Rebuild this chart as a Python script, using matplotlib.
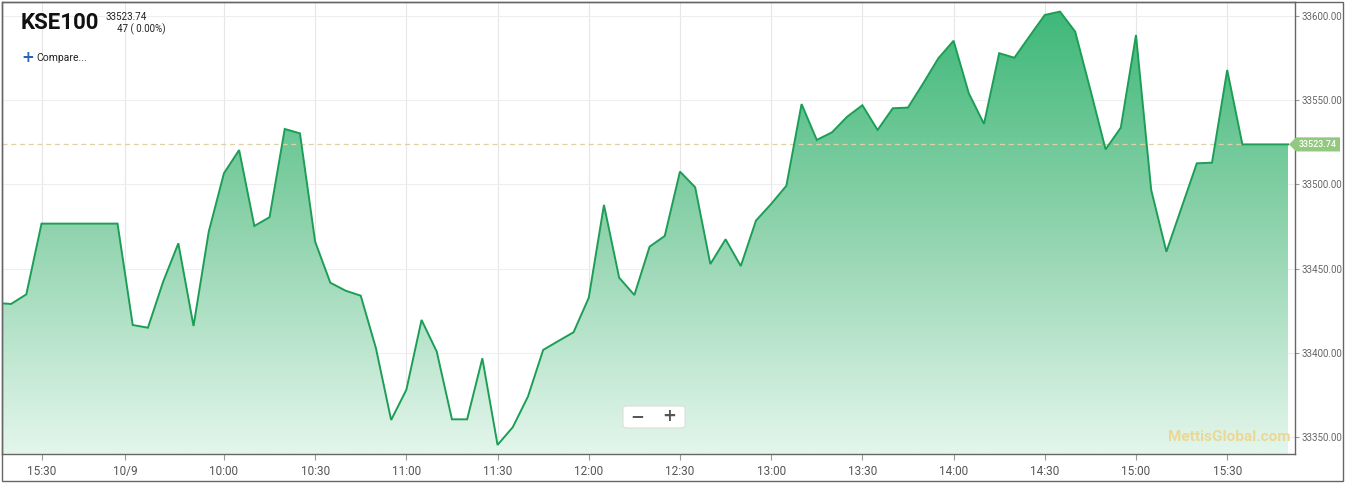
import numpy as np
import pandas as pd
import matplotlib
matplotlib.use("Agg")
import matplotlib.pyplot as plt
from matplotlib.colors import LinearSegmentedColormap
from matplotlib.patches import Rectangle, Polygon, FancyBboxPatch
from matplotlib.transforms import blended_transform_factory

# previous session tail (8/10) and today's 5-minute closes (10/9)
prev_times = ["15:15", "15:20", "15:25", "15:30"]
prev_values = [33429.6, 33429.0, 33434.7, 33476.7]

today_times = list(pd.date_range("09:25", "15:50", freq="5min").strftime("%H:%M"))
today_values = [
    33476.7, 33416.5, 33414.9, 33442.2, 33465.0, 33415.9, 33471.9,
    33506.6, 33520.4, 33475.3, 33480.5, 33532.9, 33530.3,
    33466.0, 33441.6, 33436.9, 33433.9, 33402.7, 33360.1,
    33378.0, 33419.5, 33400.7, 33360.5, 33360.5, 33396.7,
    33345.3, 33355.8, 33374.0, 33401.7, 33407.0, 33412.2,
    33432.7, 33487.8, 33444.6, 33434.3, 33463.0, 33469.4,
    33507.6, 33498.3, 33452.7, 33467.4, 33451.5, 33478.5,
    33488.4, 33499.2, 33547.7, 33526.4, 33530.9, 33540.2,
    33547.0, 33532.3, 33545.2, 33545.6, 33560.0, 33574.9,
    33585.3, 33554.1, 33535.9, 33577.9, 33575.2, 33588.0,
    33600.6, 33602.6, 33590.7, 33556.1, 33520.8, 33533.7,
    33588.7, 33496.7, 33460.0, 33486.3, 33512.5, 33512.9,
    33567.9, 33523.74, 33523.74, 33523.74, 33523.74,
]

symbol = "KSE100"
last_price = 33523.74
change_text = "47 ( 0.00%)"

tick_names = ["15:30", "10/9", "10:00", "10:30", "11:00", "11:30", "12:00",
              "12:30", "13:00", "13:30", "14:00", "14:30", "15:00", "15:30"]
y_ticks = [33350, 33400, 33450, 33500, 33550, 33600]


def to_min(t):
    h, m = t.split(":")
    return int(h) * 60 + int(m)


# collapsed intraday axis, minutes from 10:00 today; yesterday's close sits at 9:00
x_prev = [to_min(t) - 930 - 60 for t in prev_times]
x_today = [to_min(t) - 600 for t in today_times]
xs = np.array(x_prev + x_today, dtype=float)
ys = np.array(prev_values + today_values)
tick_pos = [-60, -32.5] + [to_min(t) - 600 for t in tick_names[2:]]

W, H = 1345, 484
fig = plt.figure(figsize=(W / 100, H / 100), dpi=100)
ax = fig.add_axes([2 / W, (H - 454) / H, 1293 / W, 452 / H])

x0, x1 = -73.0, 352.3
y0, y1 = 33339.9, 33608.3
ax.set_xlim(x0, x1)
ax.set_ylim(y0, y1)

# gradient area
cmap = LinearSegmentedColormap.from_list("g", ["#e4f6ec", "#8fd3ad", "#3bb776"])
grad = np.linspace(0, 1, 256).reshape(-1, 1)
im = ax.imshow(grad, cmap=cmap, aspect="auto", extent=[x0, x1, y0, y1],
               origin="lower", zorder=1)
verts = np.vstack([[xs[0], y0], np.column_stack([xs, ys]), [xs[-1], y0]])
clip = Polygon(verts, closed=True, fc="none", ec="none")
ax.add_patch(clip)
im.set_clip_path(clip)

ax.plot(xs, ys, color="#1c9e56", lw=1.4, zorder=3, solid_joinstyle="miter")

# last price dashed line
ax.axhline(last_price, color="#dbd3a6", lw=0.9, ls=(0, (4, 3)), zorder=2)

# grid
for t in tick_pos:
    ax.axvline(t, color="#e6e6e6", lw=0.8, zorder=0.5)
for v in y_ticks:
    ax.axhline(v, color="#eeeeee", lw=0.8, zorder=0.5)

ax.set_xticks(tick_pos)
ax.set_xticklabels(tick_names)
ax.set_yticks(y_ticks)
ax.set_yticklabels([f"{v:.2f}" for v in y_ticks])
ax.yaxis.tick_right()
ax.tick_params(axis="x", length=4, width=0.8, color="#999999", pad=4,
               labelsize=8.5, labelcolor="#555555")
ax.tick_params(axis="y", length=3, width=0.8, color="#999999", pad=2,
               labelsize=7, labelcolor="#666666")
for lab in ax.get_xticklabels() + ax.get_yticklabels():
    lab.set_fontfamily("Roboto")
for s in ax.spines.values():
    s.set_color("#666666")
    s.set_linewidth(1.0)

# price tag on the right axis
tr = blended_transform_factory(ax.transAxes, ax.transData)
hh = 4.2
tag = Polygon([[0.9954, last_price], [1.0008, last_price + hh], [1.0348, last_price + hh],
               [1.0348, last_price - hh], [1.0008, last_price - hh]],
              closed=True, transform=tr, fc="#93c87f", ec="none", clip_on=False, zorder=5)
ax.add_patch(tag)
ax.text(1.0178, last_price, f"{last_price:.2f}", transform=tr, ha="center", va="center",
        fontsize=6.5, color="white", fontfamily="Roboto", fontweight="medium",
        zorder=6, clip_on=False)

# watermark
ax.text(0.997, 0.022, "MettisGlobal.com", transform=ax.transAxes, ha="right", va="bottom",
        fontsize=11, fontweight="bold", color="#ecd896", fontfamily="Roboto", zorder=4)

# zoom buttons
btn = FancyBboxPatch((623 / W, (H - 428) / H), 62 / W, 22 / H,
                     boxstyle="round,pad=0,rounding_size=0.004", transform=fig.transFigure,
                     fc="white", ec="#dddddd", lw=0.8, zorder=10)
fig.patches.append(btn)
fig.text(637 / W, (H - 416) / H, "\u2212", ha="center", va="center", fontsize=12,
         fontweight="bold", color="#555555", fontfamily="DejaVu Sans", zorder=11)
fig.text(669 / W, (H - 416) / H, "+", ha="center", va="center", fontsize=12,
         fontweight="bold", color="#555555", fontfamily="DejaVu Sans", zorder=11)
fig.lines.append(plt.Line2D([655 / W, 655 / W], [(H - 424) / H, (H - 409) / H],
                            transform=fig.transFigure, color="#cccccc", lw=0.8))

# header
fig.text(21 / W, (H - 23) / H, symbol, ha="left", va="center", fontsize=16,
         fontweight="bold", color="#111111", fontfamily="Roboto")
fig.text(106 / W, (H - 17) / H, f"{last_price:.2f}", ha="left", va="center",
         fontsize=7, color="#222222", fontfamily="Roboto")
fig.text(117 / W, (H - 29) / H, change_text, ha="left", va="center",
         fontsize=7, color="#222222", fontfamily="Roboto")
fig.text(21 / W, (H - 58) / H, "+", ha="left", va="center", fontsize=11,
         fontweight="bold", color="#2a62b8", fontfamily="DejaVu Sans")
fig.text(36 / W, (H - 58) / H, "Compare...", ha="left", va="center",
         fontsize=7.5, color="#222222", fontfamily="Roboto")

# outer frame
fig.patches.append(Rectangle((2 / W, 3 / H), 1341 / W, 479 / H, transform=fig.transFigure,
                             fill=False, ec="#666666", lw=1.0))

fig.savefig("out.png", dpi=100)
